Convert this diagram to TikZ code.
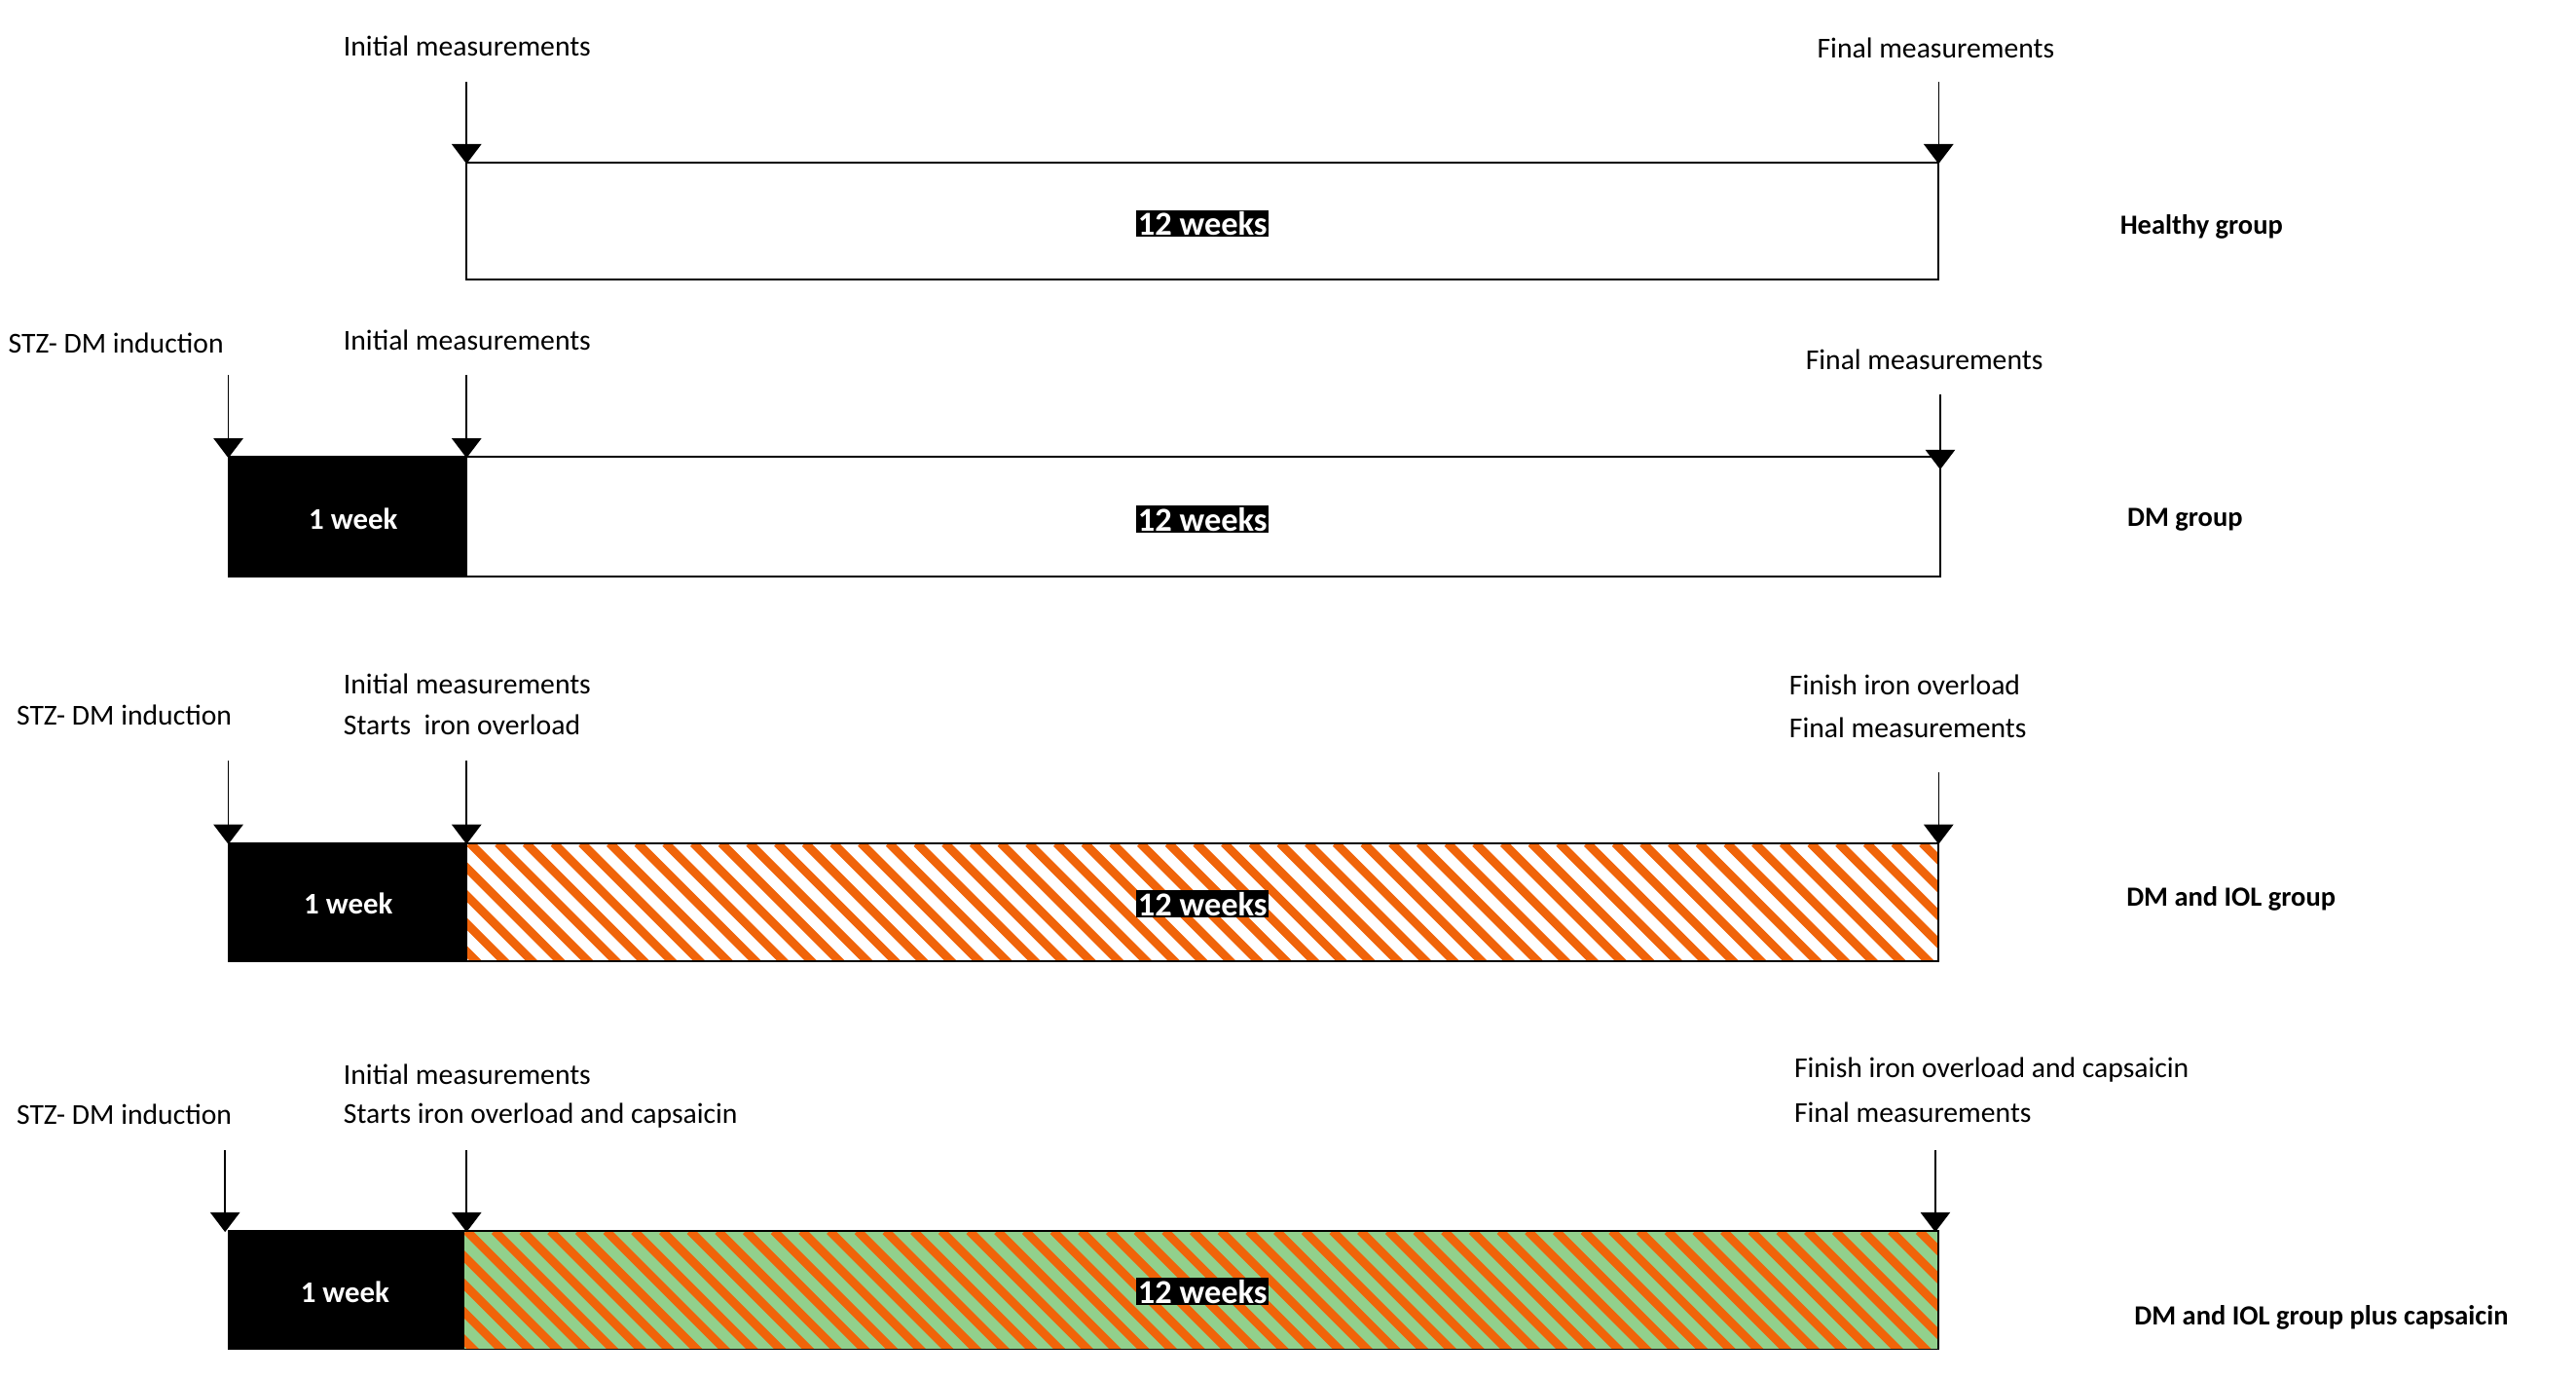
\documentclass[tikz,border=0pt]{standalone}
\usepackage{fontspec}
\setmainfont{Carlito}
\usetikzlibrary{arrows.meta}
\definecolor{org}{RGB}{240,100,10}
\definecolor{grn}{RGB}{146,208,140}
\begin{document}
\begin{tikzpicture}[x=0.5mm,y=-0.5mm,
  lbl/.style={anchor=west,inner sep=0,font=\fontsize{25pt}{30pt}\selectfont},
  grp/.style={inner sep=0,font=\fontsize{24pt}{29pt}\selectfont\bfseries},
  wk/.style={fill=black,text=white,inner sep=1.5pt,font=\fontsize{29pt}{34pt}\selectfont\bfseries},
  box/.style={draw=black,line width=1.5pt},
  blk/.style={fill=black,draw=black,line width=1.5pt},
  arr/.style={line width=1.3pt,-{Triangle[width=9mm,length=6mm]}},
  shorten >=-1pt]
\useasboundingbox (0,0) rectangle (1568,838.5);
\newcommand{\hatch}[5]{% x1 y1 x2 y2 bg
  \begin{scope}
  \clip (#1,#2) rectangle (#3,#4);
  \fill[#5] (#1,#2) rectangle (#3,#4);
  \foreach \i in {-100,-83,...,1000} {\draw[org,line width=2.6mm] (#1+\i,#2) -- ++(100,100);}
  \end{scope}}
% Row 1
\draw[box] (284,99) rectangle (1180,170);
\node[wk] (w1) at (732,136) {12 weeks};
\node[grp] (g1) at (1340,138) {Healthy group};
\node[lbl] (i1) at (209,28) {Initial measurements};
\node[lbl] (f1) at (1106,29) {Final measurements};
\coordinate (a1s) at (284,50); \coordinate (a1e) at (284,99);
\coordinate (b1s) at (1180,50); \coordinate (b1e) at (1180,99);
\draw[arr] (a1s) -- (a1e); \draw[arr] (b1s) -- (b1e);
% Row 2
\draw[blk] (139,278) rectangle (284,351);
\draw[box] (284,278) rectangle (1181,351);
\node[wk,font=\fontsize{26pt}{30pt}\selectfont\bfseries] (o2) at (215,316) {1 week};
\node[wk] (w2) at (732,316) {12 weeks};
\node[grp] (g2) at (1330,316) {DM group};
\node[lbl] (s2) at (5,209) {STZ- DM induction};
\node[lbl] (i2) at (209,207) {Initial measurements};
\node[lbl] (f2) at (1099,219) {Final measurements};
\coordinate (c2s) at (139,228); \coordinate (c2e) at (139,278);
\coordinate (a2s) at (284,228); \coordinate (a2e) at (284,278);
\coordinate (b2s) at (1181,240); \coordinate (b2e) at (1181,285);
\draw[arr] (c2s) -- (c2e); \draw[arr] (a2s) -- (a2e); \draw[arr] (b2s) -- (b2e);
% Row 3
\hatch{284}{513}{1180}{585}{white}
\draw[box] (284,513) rectangle (1180,585);
\draw[blk] (139,513) rectangle (284,585);
\node[wk,font=\fontsize{26pt}{30pt}\selectfont\bfseries] (o3) at (212,550) {1 week};
\node[wk] (w3) at (732,550) {12 weeks};
\node[grp] (g3) at (1358,547) {DM and IOL group};
\node[lbl] (s3) at (10,435) {STZ- DM induction};
\node[lbl] (i3) at (209,416) {Initial measurements};
\node[lbl] (t3) at (209,441) {Starts\ \ iron overload};
\node[lbl] (h3) at (1089,417) {Finish iron overload};
\node[lbl] (f3) at (1089,443) {Final measurements};
\coordinate (c3s) at (139,463); \coordinate (c3e) at (139,513);
\coordinate (a3s) at (284,463); \coordinate (a3e) at (284,513);
\coordinate (b3s) at (1180,470); \coordinate (b3e) at (1180,513);
\draw[arr] (c3s) -- (c3e); \draw[arr] (a3s) -- (a3e); \draw[arr] (b3s) -- (b3e);
% Row 4
\hatch{282}{749}{1180}{821}{grn}
\draw[box] (282,749) rectangle (1180,821);
\draw[blk] (139,749) rectangle (282,821);
\node[wk,font=\fontsize{26pt}{30pt}\selectfont\bfseries] (o4) at (210,786) {1 week};
\node[wk] (w4) at (732,786) {12 weeks};
\node[grp] (g4) at (1413,802) {DM and IOL group plus capsaicin};
\node[lbl] (s4) at (10,678) {STZ- DM induction};
\node[lbl] (i4) at (209,654) {Initial measurements};
\node[lbl] (t4) at (209,679) {Starts iron overload and capsaicin};
\node[lbl] (h4) at (1092,651) {Finish iron overload and capsaicin};
\node[lbl] (f4) at (1092,677) {Final measurements};
\coordinate (c4s) at (137,700); \coordinate (c4e) at (137,749);
\coordinate (a4s) at (284,700); \coordinate (a4e) at (284,749);
\coordinate (b4s) at (1178,700); \coordinate (b4e) at (1178,749);
\draw[arr] (c4s) -- (c4e); \draw[arr] (a4s) -- (a4e); \draw[arr] (b4s) -- (b4e);
\end{tikzpicture}
\end{document}
